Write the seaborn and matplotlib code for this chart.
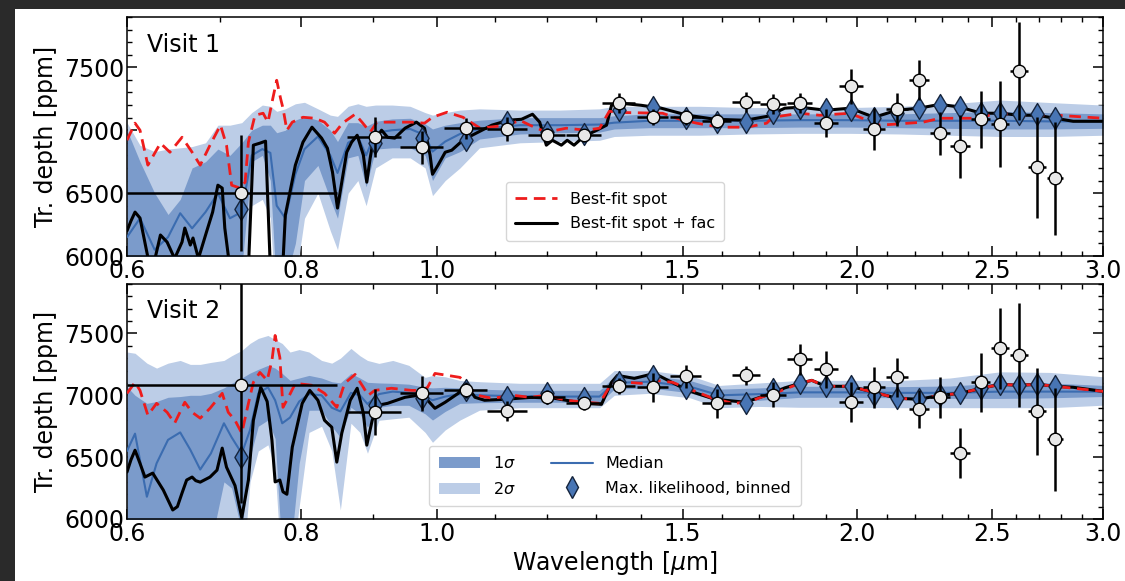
import matplotlib
matplotlib.use("Agg")
import matplotlib.pyplot as plt
import numpy as np
import pandas as pd
import seaborn as sns
from matplotlib.patches import Patch, Rectangle
from matplotlib.lines import Line2D
from matplotlib.ticker import FixedLocator, FixedFormatter, NullFormatter, MultipleLocator

# ---------------- binned data (shared wavelength bins) ----------------
wave = [0.724, 0.903, 0.976, 1.049, 1.123, 1.199, 1.275, 1.350, 1.428, 1.508, 1.587, 1.666, 1.741,
        1.820, 1.900, 1.980, 2.057, 2.136, 2.215, 2.293, 2.370, 2.453, 2.531, 2.612, 2.691, 2.772]
wave_err = [0.124, 0.040, 0.035, 0.037, 0.037, 0.037, 0.037, 0.037, 0.037, 0.038, 0.038, 0.038, 0.038,
            0.038, 0.038, 0.038, 0.038, 0.038, 0.038, 0.038, 0.038, 0.038, 0.038, 0.038, 0.038, 0.038]

depth_v1 = [6500, 6944, 6865, 7016, 7008, 6960, 6960, 7214, 7103, 7103, 7071, 7222, 7206,
            7214, 7056, 7349, 7008, 7167, 7397, 6976, 6873, 7087, 7048, 7468, 6706, 6619]
err_v1 = [460, 160, 130, 85, 95, 60, 50, 80, 65, 60, 55, 80, 80,
          80, 110, 140, 165, 130, 160, 170, 250, 225, 340, 390, 400, 450]
ml_v1 = [6373, 6897, 6937, 6920, 7064, 6984, 6970, 7159, 7183, 7100, 7064, 7064, 7135,
         7175, 7167, 7159, 7095, 7135, 7175, 7198, 7183, 7135, 7135, 7127, 7127, 7095]

depth_v2 = [7080, 6863, 7016, 7040, 6871, 6984, 6935, 7073, 7065, 7153, 6935, 7161, 7004,
            7290, 7210, 6944, 7065, 7145, 6887, 6984, 6532, 7105, 7379, 7323, 6871, 6645]
err_v2 = [950, 185, 140, 65, 80, 55, 55, 65, 115, 90, 120, 80, 100,
          125, 150, 160, 165, 160, 155, 165, 200, 240, 330, 420, 350, 415]
ml_v2 = [6500, 6919, 6976, 7040, 6984, 7016, 6976, 7105, 7153, 7057, 7000, 6935, 7048,
         7097, 7073, 7073, 7000, 6976, 6968, 7000, 7016, 7057, 7089, 7081, 7089, 7073]

# ---------------- retrieval bands, visit 1 ----------------
band_wl_v1 = [0.600, 0.613, 0.628, 0.642, 0.655, 0.668, 0.683, 0.697, 0.711, 0.725, 0.737, 0.750, 0.760,
              0.768, 0.779, 0.792, 0.804, 0.822, 0.839, 0.849, 0.864, 0.878, 0.890, 0.904, 0.929, 0.957,
              0.981, 0.993, 1.014, 1.039, 1.073, 1.147, 1.225, 1.308, 1.340, 1.420, 1.543, 1.676, 1.820,
              1.977, 2.147, 2.331, 2.532, 2.749, 3.000]
s2lo_v1 = [5500, 5500, 5500, 5500, 5500, 5500, 5500, 5500, 5500, 5600, 6400, 6450, 6300, 5500, 5500,
           5800, 6300, 6500, 6200, 6050, 6500, 6600, 6400, 6700, 6780, 6780, 6700, 6480, 6600, 6700,
           6860, 6900, 6910, 6920, 6950, 6960, 6960, 6970, 6975, 6975, 6970, 6960, 6950, 6950, 6960]
s1lo_v1 = [5800, 5800, 5800, 5800, 5800, 5800, 5800, 5900, 5800, 5900, 6750, 6800, 6600, 5700, 5800,
           6100, 6600, 6720, 6450, 6300, 6780, 6800, 6550, 6850, 6860, 6860, 6800, 6600, 6780, 6830,
           6930, 6970, 6980, 6985, 7010, 7020, 7020, 7020, 7025, 7025, 7020, 7015, 7010, 7010, 7015]
med_v1 = [6150, 6300, 6050, 6150, 6340, 6220, 6350, 6500, 6300, 6350, 6800, 6850, 6820, 6400, 6300,
          6650, 6850, 6950, 6800, 6660, 6900, 6950, 6800, 6980, 7000, 7010, 6960, 6830, 6910, 6970,
          7010, 7040, 7040, 7045, 7060, 7075, 7075, 7075, 7080, 7080, 7075, 7075, 7075, 7070, 7070]
s1hi_v1 = [7000, 6750, 6500, 6330, 6450, 6700, 6750, 6850, 6800, 6900, 7000, 7040, 7040, 6980, 7000,
           7080, 7110, 7080, 7000, 6910, 7060, 7060, 7030, 7070, 7090, 7095, 7050, 7010, 7040, 7060,
           7080, 7100, 7100, 7100, 7115, 7130, 7130, 7130, 7130, 7130, 7130, 7140, 7150, 7140, 7130]
s2hi_v1 = [7060, 6880, 6830, 6850, 6860, 6870, 6900, 7040, 7040, 7060, 7140, 7200, 7190, 7150, 7170,
           7210, 7222, 7170, 7120, 7110, 7190, 7210, 7190, 7200, 7200, 7190, 7140, 7120, 7140, 7160,
           7170, 7160, 7160, 7170, 7190, 7190, 7190, 7180, 7180, 7180, 7190, 7210, 7240, 7220, 7200]

# ---------------- retrieval bands, visit 2 ----------------
band_wl_v2 = [0.600, 0.608, 0.620, 0.630, 0.642, 0.655, 0.666, 0.677, 0.689, 0.704, 0.713, 0.725, 0.735,
              0.745, 0.757, 0.766, 0.775, 0.785, 0.797, 0.810, 0.827, 0.841, 0.853, 0.868, 0.881, 0.892,
              0.909, 0.930, 0.955, 0.981, 0.993, 1.014, 1.039, 1.073, 1.147, 1.225, 1.308, 1.340, 1.420,
              1.518, 1.593, 1.703, 1.820, 1.977, 2.147, 2.331, 2.532, 2.749, 3.000]
s2lo_v2 = [5500, 5500, 5500, 5500, 5500, 5500, 5500, 5500, 5500, 5500, 5500, 5500, 6300, 6550, 6600,
           6400, 5500, 5500, 6100, 6700, 6750, 6550, 6073, 6774, 6700, 6532, 6798, 6810, 6823, 6700,
           6620, 6720, 6800, 6880, 6900, 6900, 6900, 7000, 7016, 6980, 6900, 6910, 6903, 6903, 6900,
           6900, 6900, 6900, 6920]
s1lo_v2 = [5700, 5700, 5700, 5700, 5700, 5700, 5700, 5700, 5800, 6300, 6250, 5900, 6500, 6750, 6800,
           6650, 5700, 5700, 6450, 6879, 6880, 6750, 6660, 6903, 6850, 6742, 6903, 6919, 6919, 6850,
           6800, 6870, 6935, 6940, 6944, 6944, 6940, 7050, 7060, 7020, 6950, 6960, 6984, 6984, 6980,
           6975, 6975, 6980, 6990]
med_v2 = [6550, 6690, 6180, 6450, 6640, 6700, 6560, 6400, 6530, 6774, 6660, 6530, 6720, 7016, 7065,
          6960, 6774, 6820, 6950, 7010, 7000, 6900, 6870, 7020, 7000, 6930, 7010, 7030, 7020, 6990,
          6960, 6990, 7010, 7000, 6992, 6990, 6990, 7100, 7110, 7070, 7000, 7010, 7024, 7024, 7020,
          7020, 7030, 7030, 7030]
s1hi_v2 = [7070, 7000, 6935, 6950, 6984, 6990, 7000, 7000, 7016, 7060, 7097, 7140, 7180, 7210, 7242,
           7220, 7177, 7121, 7140, 7161, 7140, 7110, 7100, 7177, 7140, 7105, 7100, 7097, 7090, 7065,
           7060, 7065, 7060, 7050, 7040, 7040, 7040, 7150, 7160, 7120, 7050, 7060, 7073, 7073, 7070,
           7075, 7100, 7100, 7080]
s2hi_v2 = [7350, 7340, 7260, 7220, 7260, 7282, 7250, 7250, 7266, 7282, 7320, 7363, 7420, 7460, 7484,
           7450, 7419, 7350, 7370, 7350, 7282, 7260, 7300, 7379, 7320, 7282, 7258, 7282, 7242, 7145,
           7160, 7150, 7120, 7110, 7097, 7097, 7097, 7200, 7200, 7160, 7080, 7100, 7121, 7121, 7120,
           7140, 7190, 7185, 7150]

# ---------------- best-fit models, visit 1 ----------------
spot_wl_v1 = [0.600, 0.608, 0.613, 0.621, 0.634, 0.644, 0.657, 0.668, 0.677, 0.688, 0.700, 0.707, 0.713,
              0.723, 0.729, 0.733, 0.741, 0.751, 0.757, 0.763, 0.768, 0.773, 0.776, 0.781, 0.788, 0.802,
              0.818, 0.831, 0.845, 0.856, 0.874, 0.884, 0.896, 0.906, 0.928, 0.959, 0.980, 0.993, 1.017,
              1.044, 1.074, 1.123, 1.147, 1.166, 1.198, 1.238, 1.279, 1.308, 1.329, 1.367, 1.451, 1.493,
              1.535, 1.595, 1.668, 1.723, 1.740, 1.820, 1.880, 1.977, 2.033, 2.077, 2.230, 2.293, 2.422,
              2.532, 2.629, 2.781, 3.000]
spot_v1 = [6921, 7056, 7000, 6722, 6897, 6825, 6944, 6825, 6722, 6881, 7040, 6881, 6563,
           6540, 6587, 6905, 7119, 7135, 7064, 7250, 7397, 7250, 7175, 7000, 7064, 7103,
           7095, 7064, 6976, 7056, 7127, 7064, 6984, 7064, 7064, 7064, 7056, 7103, 7143,
           7103, 7016, 7040, 7079, 7040, 6984, 7016, 7000, 7016, 7150, 7140, 7135, 7087,
           7056, 7024, 7024, 7056, 7103, 7135, 7119, 7135, 7079, 7040, 7064, 7095, 7095,
           7135, 7119, 7119, 7095]
fac_wl_v1 = [0.600, 0.604, 0.608, 0.613, 0.621, 0.626, 0.634, 0.641, 0.649, 0.657, 0.660, 0.666, 0.669,
             0.675, 0.684, 0.691, 0.697, 0.702, 0.705, 0.711, 0.725, 0.733, 0.739, 0.747, 0.754, 0.760,
             0.768, 0.776, 0.779, 0.792, 0.802, 0.814, 0.827, 0.835, 0.842, 0.849, 0.855, 0.862, 0.869,
             0.877, 0.886, 0.891, 0.896, 0.900, 0.913, 0.922, 0.933, 0.949, 0.967, 0.980, 0.989, 0.993,
             1.002, 1.014, 1.025, 1.044, 1.060, 1.095, 1.125, 1.150, 1.171, 1.185, 1.198, 1.210, 1.228,
             1.240, 1.254, 1.275, 1.302, 1.323, 1.334, 1.356, 1.401, 1.448, 1.512, 1.582, 1.663, 1.726,
             1.775, 1.820, 1.899, 1.977, 2.057, 2.136, 2.215, 2.293, 2.370, 2.455, 2.532, 2.612, 2.691,
             2.772, 2.856, 3.000]
fac_v1 = [6200, 6280, 6349, 6302, 5990, 5900, 6167, 6111, 5980, 6111, 6222, 6087, 6143,
          5980, 6190, 6349, 6563, 6540, 6222, 5900, 5800, 5900, 6881, 6897, 6913, 5900,
          5800, 5950, 6325, 6722, 6905, 7024, 6937, 6857, 6667, 6381, 6587, 6825, 6905,
          6960, 6802, 6587, 6778, 6905, 7000, 6944, 6937, 7016, 7064, 7016, 6802, 6650,
          6722, 6825, 6841, 6920, 6960, 7040, 7079, 7087, 7127, 7064, 6881, 6920, 6881,
          6920, 6881, 6952, 7000, 7040, 7198, 7214, 7198, 7175, 7119, 7087, 7079, 7111,
          7175, 7183, 7159, 7175, 7103, 7159, 7175, 7206, 7183, 7135, 7135, 7119, 7119,
          7095, 7071, 7071]

# ---------------- best-fit models, visit 2 ----------------
spot_wl_v2 = [0.600, 0.608, 0.613, 0.621, 0.630, 0.641, 0.649, 0.660, 0.668, 0.677, 0.688, 0.702, 0.709,
              0.717, 0.725, 0.733, 0.739, 0.747, 0.756, 0.762, 0.766, 0.772, 0.776, 0.783, 0.792, 0.814,
              0.831, 0.848, 0.859, 0.874, 0.886, 0.893, 0.903, 0.928, 0.959, 0.975, 0.985, 0.997, 1.018,
              1.039, 1.069, 1.096, 1.134, 1.166, 1.198, 1.238, 1.279, 1.308, 1.334, 1.369, 1.401, 1.432,
              1.475, 1.512, 1.576, 1.630, 1.668, 1.723, 1.752, 1.820, 1.856, 1.899, 1.977, 2.057, 2.136,
              2.215, 2.293, 2.370, 2.455, 2.532, 2.612, 2.691, 2.772, 3.000]
spot_v2 = [7016, 7105, 7040, 6839, 6935, 6863, 6774, 6944, 6863, 6815, 6895, 7016, 6863,
           6798, 6694, 6935, 7105, 7185, 7121, 7282, 7484, 7306, 6903, 6984, 7097, 7081,
           7016, 6903, 7097, 7169, 7065, 7000, 7040, 7057, 7040, 7040, 7065, 7177, 7161,
           7145, 7000, 6976, 7000, 6984, 7000, 6960, 6944, 6935, 7097, 7105, 7097, 7121,
           7105, 7057, 6976, 6935, 6944, 7000, 7024, 7097, 7121, 7073, 7073, 7024, 6976,
           6968, 7000, 7016, 7057, 7089, 7081, 7089, 7073, 7032]
fac_wl_v2 = [0.600, 0.604, 0.608, 0.613, 0.618, 0.626, 0.637, 0.647, 0.652, 0.657, 0.662, 0.668, 0.672,
             0.677, 0.688, 0.696, 0.702, 0.707, 0.717, 0.725, 0.733, 0.739, 0.748, 0.756, 0.762, 0.766,
             0.772, 0.776, 0.781, 0.788, 0.801, 0.811, 0.822, 0.831, 0.841, 0.848, 0.855, 0.867, 0.877,
             0.886, 0.891, 0.899, 0.907, 0.922, 0.949, 0.969, 0.985, 0.997, 1.014, 1.036, 1.048, 1.065,
             1.082, 1.119, 1.169, 1.214, 1.275, 1.312, 1.334, 1.347, 1.385, 1.432, 1.512, 1.582, 1.663,
             1.738, 1.775, 1.820, 1.856, 1.899, 1.977, 2.057, 2.136, 2.215, 2.293, 2.370, 2.455, 2.532,
             2.612, 2.691, 2.772, 2.856, 3.000]
fac_v2 = [6380, 6480, 6556, 6450, 6339, 6371, 6234, 6073, 6100, 6210, 6315, 6339, 6310,
          6298, 6339, 6395, 6573, 6419, 6270, 6010, 6315, 6798, 7065, 6950, 6637, 6300,
          6315, 6220, 6200, 6581, 6935, 7040, 6960, 6798, 6742, 6460, 6694, 6960, 7057,
          6855, 6597, 6798, 6919, 6935, 6984, 7000, 6960, 6895, 6944, 7016, 7097, 6984,
          6960, 6968, 6984, 6976, 6935, 6927, 7105, 7161, 7137, 7177, 7040, 6968, 6944,
          7016, 7060, 7097, 7121, 7073, 7073, 7024, 6976, 6968, 7000, 7016, 7057, 7089,
          7081, 7089, 7073, 7065, 7032]

xticks = [0.6, 0.8, 1.0, 1.5, 2.0, 2.5, 3.0]
xtick_labels = ["0.6", "0.8", "1.0", "1.5", "2.0", "2.5", "3.0"]
xminor = [0.7, 0.9, 1.1, 1.2, 1.3, 1.4, 1.6, 1.7, 1.8, 1.9, 2.1, 2.2, 2.3, 2.4, 2.6, 2.7, 2.8, 2.9]
yticks = [6000, 6500, 7000, 7500]

# ---------------- style ----------------
sns.set_theme(style="ticks")
plt.rcParams["font.family"] = ["DejaVu Sans"]
plt.rcParams["mathtext.fontset"] = "dejavusans"
plt.rcParams.update({
    "xtick.direction": "in", "ytick.direction": "in",
    "xtick.top": True, "ytick.right": True,
    "axes.linewidth": 1.1,
    "text.color": "black", "axes.labelcolor": "black",
    "xtick.color": "black", "ytick.color": "black",
    "xtick.labelcolor": "black", "ytick.labelcolor": "black",
    "axes.edgecolor": "black",
})

C2 = "#bccde7"
C1 = "#7b9bcb"
CMED = "#3b6cb0"
CDIA = "#4875b4"
CRED = "#ee1c1c"
DASH = (0, (4.2, 2.4))

fig = plt.figure(figsize=(11.25, 5.81), dpi=100)
fig.patch.set_facecolor("#2a2a2a")
fig.patches.append(Rectangle((15 / 1125, 0), 1 - 15 / 1125, 1 - 9 / 581,
                             transform=fig.transFigure, facecolor="white",
                             edgecolor="none", zorder=-10))

ax1 = fig.add_axes([127 / 1125, 1 - 256 / 581, 976 / 1125, 239 / 581])
ax2 = fig.add_axes([127 / 1125, 1 - 519 / 581, 976 / 1125, 235 / 581])

panels = [
    (ax1, "Visit 1", band_wl_v1, s2lo_v1, s1lo_v1, med_v1, s1hi_v1, s2hi_v1,
     spot_wl_v1, spot_v1, fac_wl_v1, fac_v1, depth_v1, err_v1, ml_v1),
    (ax2, "Visit 2", band_wl_v2, s2lo_v2, s1lo_v2, med_v2, s1hi_v2, s2hi_v2,
     spot_wl_v2, spot_v2, fac_wl_v2, fac_v2, depth_v2, err_v2, ml_v2),
]

for (ax, title, bwl, s2lo, s1lo, med, s1hi, s2hi,
     swl, sv, fwl, fv, dep, err, ml) in panels:
    ax.set_xscale("log")
    ax.fill_between(bwl, s2lo, s2hi, color=C2, lw=0, zorder=1)
    ax.fill_between(bwl, s1lo, s1hi, color=C1, lw=0, zorder=2)
    sns.lineplot(x=bwl, y=med, ax=ax, color=CMED, lw=1.5, estimator=None,
                 sort=False, zorder=3)
    sns.lineplot(x=fwl, y=fv, ax=ax, color="black", lw=2.2, estimator=None,
                 sort=False, zorder=4)
    sns.lineplot(x=swl, y=sv, ax=ax, color=CRED, lw=2.0, estimator=None,
                 sort=False, zorder=5, linestyle=DASH)
    sns.scatterplot(x=wave, y=ml, ax=ax, marker="d", s=125, color=CDIA,
                    edgecolor="#15243c", linewidth=1.0, zorder=6)
    ax.errorbar(wave, dep, xerr=wave_err, yerr=err, fmt="o", ms=9,
                mfc="#e8e8e8", mec="black", mew=1.0, ecolor="black",
                elinewidth=1.8, capsize=0, zorder=7)

    ax.set_xlim(0.6, 3.0)
    ax.set_ylim(6000, 7900)
    ax.xaxis.set_major_locator(FixedLocator(xticks))
    ax.xaxis.set_major_formatter(FixedFormatter(xtick_labels))
    ax.xaxis.set_minor_locator(FixedLocator(xminor))
    ax.xaxis.set_minor_formatter(NullFormatter())
    ax.yaxis.set_major_locator(FixedLocator(yticks))
    ax.yaxis.set_minor_locator(MultipleLocator(100))
    ax.tick_params(which="major", length=7, width=1.1, labelsize=17, pad=2,
                   top=True, right=True, direction="in", color="black",
                   labelcolor="black")
    ax.tick_params(which="minor", length=3.5, width=1.0, top=True, right=True,
                   direction="in", color="black")
    ax.set_ylabel("Tr. depth [ppm]", fontsize=17, labelpad=4, color="black")
    ax.set_xlabel("")
    ax.text(0.021, 0.935, title, transform=ax.transAxes, fontsize=17,
            ha="left", va="top", zorder=10, color="black")
    for sp in ax.spines.values():
        sp.set_visible(True)
        sp.set_color("black")
    ax.set_facecolor("white")

ax2.set_xlabel(r"Wavelength [$\mu$m]", fontsize=17, labelpad=2, color="black")

h1 = [Line2D([], [], color=CRED, lw=2.0, linestyle=DASH),
      Line2D([], [], color="black", lw=2.2)]
leg1 = ax1.legend(h1, ["Best-fit spot", "Best-fit spot + fac"], loc="lower center",
                  bbox_to_anchor=(0.5, 0.03), fontsize=11.5, frameon=True,
                  handlelength=2.6, borderpad=0.6, labelspacing=0.6)

h2 = [Patch(facecolor=C1, edgecolor="none"), Patch(facecolor=C2, edgecolor="none"),
      Line2D([], [], color=CMED, lw=1.5),
      Line2D([], [], marker="d", ls="none", ms=11, mfc=CDIA, mec="#15243c", mew=1.0)]
leg2 = ax2.legend(h2, [r"1$\sigma$", r"2$\sigma$", "Median", "Max. likelihood, binned"],
                  loc="lower center", bbox_to_anchor=(0.5, 0.02), ncol=2, fontsize=11.5,
                  frameon=True, handlelength=2.6, columnspacing=2.2, borderpad=0.6,
                  labelspacing=0.6)
for leg in (leg1, leg2):
    for t in leg.get_texts():
        t.set_color("black")

fig.savefig("out.png", dpi=100, facecolor=fig.get_facecolor())
